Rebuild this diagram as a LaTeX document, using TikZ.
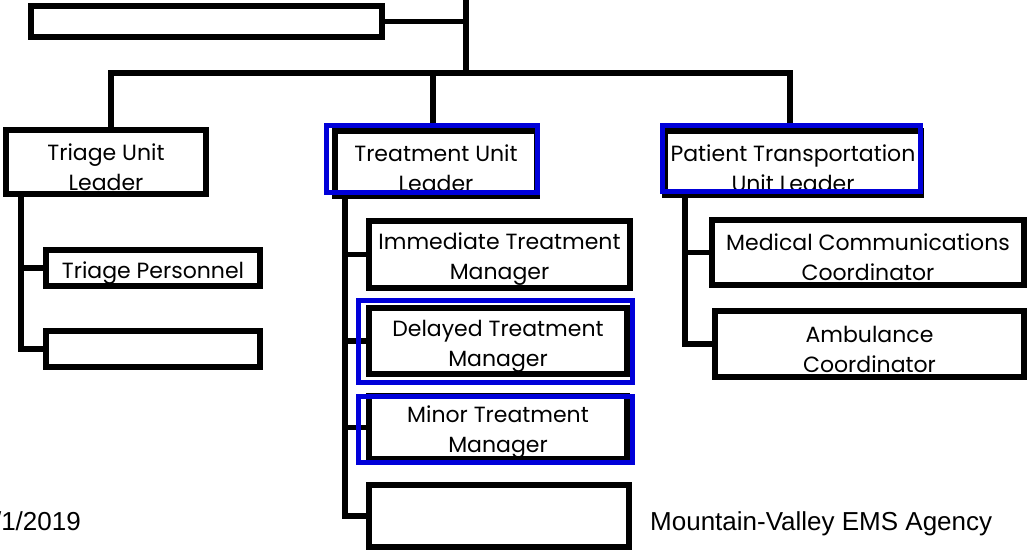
\documentclass[tikz,border=0pt]{standalone}
\usepackage{fontspec}
\newfontfamily\boxfont{Poppins}
\newfontfamily\footfont{Liberation Sans}
\begin{document}
\begin{tikzpicture}[
			x=1pt, y=-1pt,
			cell/.style={
				rectangle,
				draw,
				line width=5.5pt,
				inner sep=0pt,
			},
			celltext/.style={% text sits a little low in the boxes
				align=center,
				inner sep=0pt,
				yshift=-5,
				font=\boxfont\fontsize{22}{30}\selectfont,
			},
			BlueC1/.style={% blue highlight frames
				draw=blue!85!black,
				line width=5pt,
			},
			ConnC1/.style={% plain connectors
				line width=5.5pt,
			},
			]
				\useasboundingbox (0,0) rectangle (1031,553);
				% top
				\node[cell, minimum width=351, minimum height=31] (top) at (206.5,21.5) {};
				\coordinate (t0) at (466,0);
				\coordinate (j0) at (466,73);
				
				% unit leaders
				\node[cell, minimum width=200, minimum height=64, label={[celltext]center:Triage Unit\\Leader}] (tul) at (106,162) {};
				\node[cell, minimum width=202, minimum height=65, label={[celltext]center:Treatment Unit\\Leader}] (trul) at (436,163.5) {};
				\node[cell, minimum width=256, minimum height=64, label={[celltext]center:Patient Transportation\\Unit Leader}] (ptul) at (793,163) {};
				
				% triage
				\node[cell, minimum width=214, minimum height=36, label={[celltext]center:Triage Personnel}] (tp) at (153,268) {};
				\node[cell, minimum width=214, minimum height=36] (te) at (153,349) {};
				
				% treatment
				\node[cell, minimum width=261, minimum height=67, label={[celltext]center:Immediate Treatment\\Manager}] (itm) at (499.5,254.5) {};
				\node[cell, minimum width=258, minimum height=66, label={[celltext]center:Delayed Treatment\\Manager}] (dtm) at (498,341) {};
				\node[cell, minimum width=258, minimum height=63, label={[celltext]center:Minor Treatment\\Manager}] (mtm) at (498,427.5) {};
				\node[cell, minimum width=260, minimum height=62] (be) at (499,516) {};
				
				% transportation
				\node[cell, minimum width=312, minimum height=65, label={[celltext]center:Medical Communications\\Coordinator}] (mcc) at (868,252.5) {};
				\node[cell, minimum width=309, minimum height=66, label={[celltext]center:Ambulance\\Coordinator}] (ac) at (869.5,344) {};
				
				% footer
				\node[font=\footfont\fontsize{26}{30}\selectfont, anchor=base east, inner sep=0pt] (date) at (81,530) {7/1/2019};
				\node[font=\footfont\fontsize{26}{30}\selectfont, anchor=base west, inner sep=0pt] (agency) at (650,530) {Mountain-Valley EMS Agency};
				
				\draw[ConnC1] (t0) -- (j0);
				\draw[ConnC1] (top.east) -- (top.east -| t0);
				\draw[ConnC1] ([xshift=5]tul.north) |- (j0);
				\draw[ConnC1] ([xshift=-3]trul.north) -- ([xshift=-3]trul.north |- j0);
				\draw[ConnC1] (j0) -| ([xshift=-3]ptul.north);
				
				\draw[ConnC1] ([xshift=-85]tul.south) |- (tp.west);
				\draw[ConnC1] ([xshift=-85]tul.south) |- (te.west);
				
				\draw[ConnC1] ([xshift=-91]trul.south) |- (itm.west);
				\draw[ConnC1] ([xshift=-91]trul.south) |- (dtm.west);
				\draw[ConnC1] ([xshift=-91]trul.south) |- (mtm.west);
				\draw[ConnC1] ([xshift=-91]trul.south) |- (be.west);
				
				\draw[ConnC1] ([xshift=-108]ptul.south) |- (mcc.west);
				\draw[ConnC1] ([xshift=-108]ptul.south) |- (ac.west);
				
				% blue frames
				\draw[BlueC1] ([shift={(-6,-3)}]trul.north west) rectangle ([shift={(-2,-6)}]trul.south east);
				\draw[BlueC1] ([shift={(0,-3)}]ptul.north west) rectangle ([shift={(-3,-6)}]ptul.south east);
				\draw[BlueC1] ([shift={(-8,-5)}]dtm.north west) rectangle ([shift={(3,6)}]dtm.south east);
				\draw[BlueC1] ([shift={(-8,3)}]mtm.north west) rectangle ([shift={(3,1)}]mtm.south east);
			\end{tikzpicture}
\end{document}
